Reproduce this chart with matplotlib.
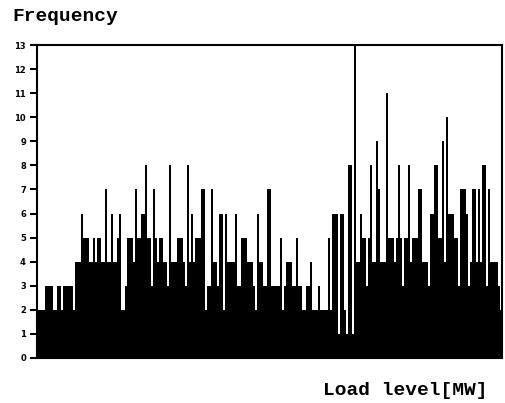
import matplotlib
matplotlib.use("Agg")
import matplotlib.pyplot as plt
import numpy as np

# frequency per load-level bin, read left to right off the scan
freq_low = [
    2, 2, 2, 2, 3, 3, 3, 3, 2, 2, 3, 3, 2, 3, 3, 3, 3, 3, 2, 4,
    4, 4, 6, 5, 5, 5, 4, 4, 5, 4, 5, 5, 4, 4, 7, 4, 4, 6, 4, 4,
    5, 6, 2, 2, 3, 5, 5, 5, 4, 7, 5, 5, 6, 6, 8, 5, 5, 3, 7, 5,
    4, 5, 5, 4, 4, 3, 8, 4, 4, 4, 5, 5, 5, 4, 3, 8, 4, 6, 4, 5,
    5, 5, 7, 7, 2, 3, 3, 7, 4, 4, 3, 6, 6, 2, 6, 4, 4, 4, 4, 6,
    3, 3, 5, 5, 5, 4, 4, 4, 3, 2, 6, 4, 4, 3, 3, 7, 7, 3, 3, 3,
    3, 5, 2, 3, 4, 4, 4, 3, 3, 5, 3, 3, 2, 2, 3, 3, 4, 2, 2, 2,
    3, 2, 2, 2, 2, 5, 2, 6, 6, 6, 1, 6, 6, 2, 1, 8, 8, 1,
]
freq_high = [
    13, 4, 4, 6, 5, 5, 3, 5, 8, 4, 4, 9, 7, 4, 4, 4, 11, 5, 5, 5,
    4, 5, 8, 5, 3, 5, 5, 8, 4, 5, 5, 5, 7, 7, 4, 4, 4, 3, 6, 6,
    8, 8, 5, 5, 9, 4, 10, 6, 6, 6, 5, 5, 3, 7, 7, 7, 6, 3, 4, 7,
    7, 4, 7, 4, 8, 8, 3, 7, 4, 4, 4, 4, 3, 2,
]
frequency = np.array(freq_low + freq_high)
y_ticks = list(range(0, 14))

fig = plt.figure(figsize=(5.05, 4.03), dpi=100)
ax = fig.add_axes([0.0733, 0.1117, 0.9207, 0.7766])

edges = np.arange(len(frequency) + 1)
ax.stairs(frequency, edges, fill=True, color="black", linewidth=0)

ax.set_xlim(0, len(frequency))
ax.set_ylim(0, 13)
ax.set_xticks([])
ax.set_yticks(y_ticks)
ax.set_yticklabels([str(t) for t in y_ticks], fontsize=6, fontweight="bold")
ax.tick_params(axis="y", direction="out", length=5, width=1.5, pad=3)
for side in ["left", "right", "top", "bottom"]:
    ax.spines[side].set_linewidth(1.5)

mono = ["Liberation Mono", "DejaVu Sans Mono"]
fig.text(0.025, 0.96, "Frequency", family=mono, fontsize=14,
         fontweight="bold", ha="left", va="center")
fig.text(0.965, 0.03, "Load level[MW]", family=mono, fontsize=14,
         fontweight="bold", ha="right", va="center")

fig.savefig("out.png", dpi=100)
